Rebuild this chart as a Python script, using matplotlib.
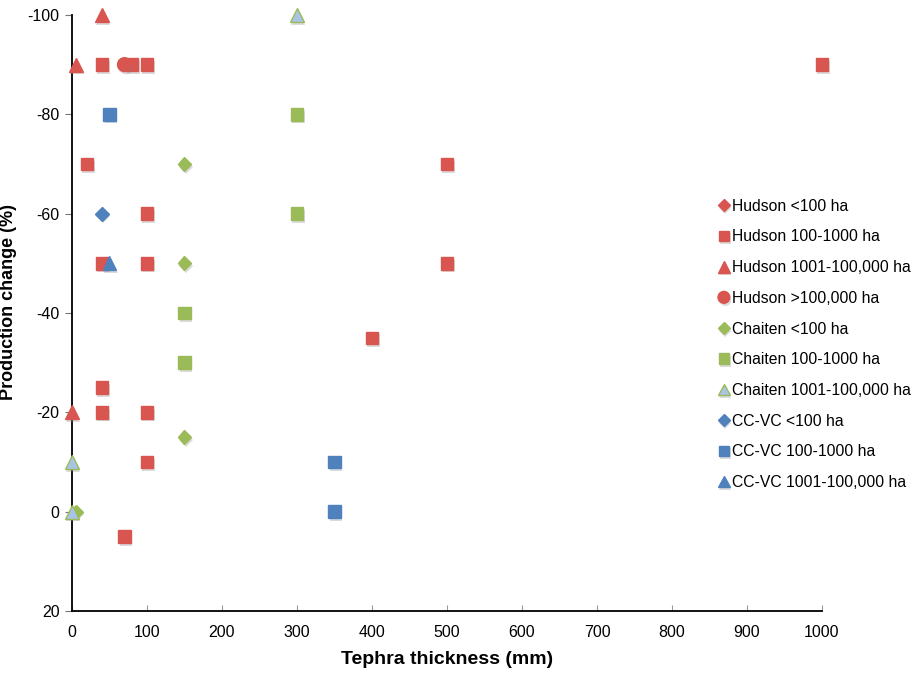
import matplotlib
matplotlib.use("Agg")
import matplotlib.pyplot as plt
import matplotlib.patheffects as pe

plt.rcParams['font.family'] = ['Liberation Sans', 'DejaVu Sans']
plt.rcParams['axes.unicode_minus'] = False

RED = '#D95550'
GREEN = '#9BBB59'
BLUE = '#4F81BD'
LIGHTBLUE = '#A9C4E4'

# Data (tephra thickness mm, production change %)
hudson_lt100_x, hudson_lt100_y = [], []
hudson_100_1000_x = [40, 80, 100, 1000, 20, 100, 40, 100, 500, 500, 400, 40, 40, 100, 100, 70]
hudson_100_1000_y = [-90, -90, -90, -90, -70, -60, -50, -50, -70, -50, -35, -25, -20, -20, -10, 5]
hudson_1001_x = [40, 5, 0]
hudson_1001_y = [-100, -90, -20]
hudson_gt100k_x = [70]
hudson_gt100k_y = [-90]
chaiten_lt100_x = [150, 150, 150, 5]
chaiten_lt100_y = [-70, -50, -15, 0]
chaiten_100_1000_x = [300, 300, 150, 150]
chaiten_100_1000_y = [-80, -60, -40, -30]
chaiten_1001_x = [300, 0, 0]
chaiten_1001_y = [-100, -10, 0]
ccvc_lt100_x = [40]
ccvc_lt100_y = [-60]
ccvc_100_1000_x = [50, 350, 350]
ccvc_100_1000_y = [-80, -10, 0]
ccvc_1001_x = [50]
ccvc_1001_y = [-50]

series = [
    ("Hudson <100 ha", hudson_lt100_x, hudson_lt100_y, 'D', RED, RED, 7),
    ("Hudson 100-1000 ha", hudson_100_1000_x, hudson_100_1000_y, 's', RED, RED, 9),
    ("Hudson 1001-100,000 ha", hudson_1001_x, hudson_1001_y, '^', RED, RED, 10),
    ("Hudson >100,000 ha", hudson_gt100k_x, hudson_gt100k_y, 'o', RED, RED, 10),
    ("Chaiten <100 ha", chaiten_lt100_x, chaiten_lt100_y, 'D', GREEN, GREEN, 7),
    ("Chaiten 100-1000 ha", chaiten_100_1000_x, chaiten_100_1000_y, 's', GREEN, GREEN, 9),
    ("Chaiten 1001-100,000 ha", chaiten_1001_x, chaiten_1001_y, '^', LIGHTBLUE, GREEN, 10),
    ("CC-VC <100 ha", ccvc_lt100_x, ccvc_lt100_y, 'D', BLUE, BLUE, 7),
    ("CC-VC 100-1000 ha", ccvc_100_1000_x, ccvc_100_1000_y, 's', BLUE, BLUE, 9),
    ("CC-VC 1001-100,000 ha", ccvc_1001_x, ccvc_1001_y, '^', BLUE, BLUE, 10),
]

fig = plt.figure(figsize=(9.24, 6.73), dpi=100)
ax = fig.add_axes([0.0779, 0.0921, 0.8117, 0.8856])

shadow = [pe.SimplePatchShadow(offset=(1, -2), shadow_rgbFace='#888888', alpha=0.3), pe.Normal()]
for label, xs, ys, m, fc, ec, ms in series:
    ax.plot(xs, ys, linestyle='none', marker=m, markersize=ms, markerfacecolor=fc,
            markeredgecolor=ec, markeredgewidth=1.0, label=label, path_effects=shadow,
            clip_on=False, zorder=3)

ax.set_xlim(0, 1000)
ax.set_ylim(20, -100)
ax.set_xticks(range(0, 1001, 100))
ax.set_yticks(range(-100, 21, 20))
ax.tick_params(axis='x', direction='in', length=4, color='#999999', labelsize=11.5, pad=10)
ax.tick_params(axis='y', direction='out', length=5, color='#777777', labelsize=11.5, pad=4)
for s in ['top', 'right']:
    ax.spines[s].set_visible(False)
for s in ['left', 'bottom']:
    ax.spines[s].set_color('black')
    ax.spines[s].set_linewidth(1.3)

ax.set_xlabel('Tephra thickness (mm)', fontsize=14, fontweight='bold', labelpad=8)
ax.set_ylabel('Production change (%)', fontsize=13, fontweight='bold', va='center')
ax.yaxis.set_label_coords(-0.084, 0.518)

leg = fig.legend(loc='upper left', bbox_to_anchor=(0.769, 0.714), frameon=False,
                 fontsize=11.3, handletextpad=0.05, labelspacing=1.0,
                 handlelength=0.9, borderaxespad=0, markerscale=0.85)

fig.savefig('out.png', dpi=100)
